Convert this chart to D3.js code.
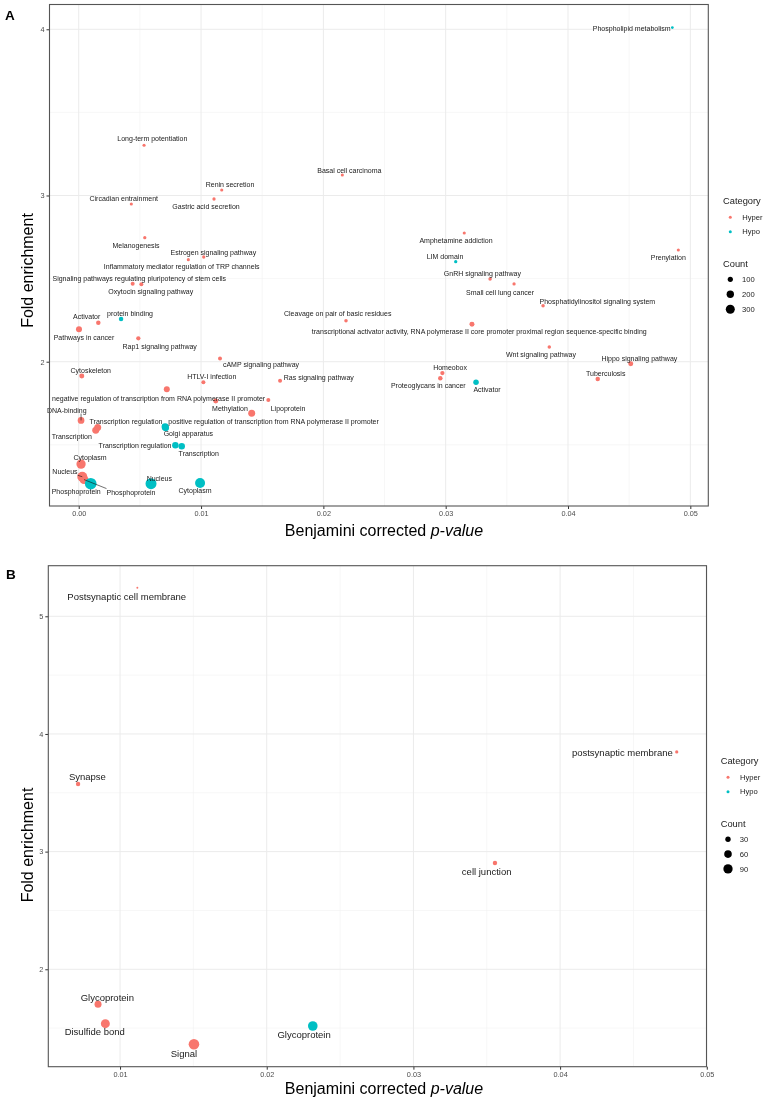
<!DOCTYPE html>
<html><head><meta charset="utf-8">
<script src="https://cdn.jsdelivr.net/npm/d3@7/dist/d3.min.js"></script>
<style>
body{margin:0;background:#fff;}
svg{display:block;will-change:transform;}
text{font-family:"Liberation Sans",Arial,Helvetica,sans-serif;-webkit-font-smoothing:antialiased;}
</style>
</head><body>
<svg id="chart" width="770" height="1100"></svg>
<script>
// ---------------- Panel A data ----------------
const termsA = [
 "Long-term potentiation","Basal cell carcinoma","Renin secretion","Gastric acid secretion","Circadian entrainment",
 "Amphetamine addiction","Melanogenesis","Prenylation","Estrogen signaling pathway","Inflammatory mediator regulation of TRP channels",
 "GnRH signaling pathway","Signaling pathways regulating pluripotency of stem cells","Small cell lung cancer","Oxytocin signaling pathway","Phosphatidylinositol signaling system",
 "Cleavage on pair of basic residues","Activator","transcriptional activator activity, RNA polymerase II core promoter proximal region sequence-specific binding","Pathways in cancer","Rap1 signaling pathway",
 "Wnt signaling pathway","cAMP signaling pathway","Hippo signaling pathway","Homeobox","Cytoskeleton",
 "Proteoglycans in cancer","Tuberculosis","Ras signaling pathway","HTLV-I infection","negative regulation of transcription from RNA polymerase II promoter",
 "","Lipoprotein","Methylation","DNA-binding","Transcription regulation",
 "Transcription","Cytoplasm","Nucleus","Phosphoprotein",
 "Phospholipid metabolism","LIM domain","protein binding","Activator","positive regulation of transcription from RNA polymerase II promoter",
 "Golgi apparatus","Transcription regulation","Transcription","Nucleus","Cytoplasm","Phosphoprotein"
];
const categoryA = [
 "Hyper","Hyper","Hyper","Hyper","Hyper","Hyper","Hyper","Hyper","Hyper","Hyper",
 "Hyper","Hyper","Hyper","Hyper","Hyper","Hyper","Hyper","Hyper","Hyper","Hyper",
 "Hyper","Hyper","Hyper","Hyper","Hyper","Hyper","Hyper","Hyper","Hyper","Hyper",
 "Hyper","Hyper","Hyper","Hyper","Hyper","Hyper","Hyper","Hyper","Hyper",
 "Hypo","Hypo","Hypo","Hypo","Hypo","Hypo","Hypo","Hypo","Hypo","Hypo","Hypo"
];
const pvalueA = [
 0.00534,0.02155,0.01169,0.01106,0.0043,
 0.03152,0.0054,0.04902,0.01022,0.00896,
 0.03363,0.00441,0.03559,0.00512,0.03796,
 0.02185,0.0016,0.03215,0.00002,0.00487,
 0.03847,0.01155,0.04513,0.02973,0.00025,
 0.02956,0.04243,0.01646,0.01019,0.0072,
 0.0112,0.0155,0.01414,0.00019,0.00155,
 0.00139,0.00019,0.00029,0.00043,
 0.04853,0.03082,0.00346,0.03248,0.00706,
 0.0071,0.0079,0.00842,0.00591,0.00992,0.00098
];
const foldA = [
 3.302,3.123,3.033,2.979,2.949,
 2.774,2.746,2.672,2.630,2.614,
 2.498,2.469,2.468,2.466,2.337,
 2.247,2.235,2.225,2.195,2.141,
 2.088,2.020,1.988,1.932,1.914,
 1.900,1.896,1.886,1.876,1.834,
 1.764,1.770,1.690,1.647,1.605,
 1.587,1.384,1.308,1.291,
 4.010,2.602,2.257,1.876,1.609,
 1.603,1.497,1.491,1.266,1.270,1.266
];
const countA = [
 36,36,36,40,36,
 36,40,36,40,36,
 45,59,40,59,45,
 45,75,92,133,68,
 45,59,92,68,92,
 75,75,59,59,133,
 92,59,181,166,181,
 181,320,370,300,
 28,40,75,112,181,
 181,156,156,447,370,506
];
const xTicksA = [0.00,0.01,0.02,0.03,0.04,0.05];
const yTicksA = [2,3,4];
const countLegendA = [100,200,300];

// ---------------- Panel B data ----------------
const termsB = ["Postsynaptic cell membrane","Synapse","postsynaptic membrane","cell junction","Glycoprotein","Disulfide bond","Signal","Glycoprotein"];
const categoryB = ["Hyper","Hyper","Hyper","Hyper","Hyper","Hyper","Hyper","Hypo"];
const pvalueB = [0.01118,0.00714,0.04795,0.03556,0.0085,0.0090,0.01504,0.02314];
const foldB = [5.243,3.575,3.847,2.903,1.703,1.538,1.363,1.518];
const countB = [4,20,11,20,51,84,117,96];
const xTicksB = [0.01,0.02,0.03,0.04,0.05];
const yTicksB = [2,3,4,5];
const countLegendB = [30,60,90];

const categories = ["Hyper","Hypo"];

// ---------------- layout (label nudges in px: dx, dy, draw segment) ----------------
const labelNudgeA = [
 [8.3,-6.3,0],[7,-4.7,0],[8.3,-5.7,0],[-8,7.3,0],[-7.6,-5.7,0],
 [-8.3,7.3,0],[-8.7,8.3,0],[-10,7.3,0],[9.6,-4.7,0],[-6.6,7.3,0],
 [-7.7,-5,0],[6.6,-5.7,0],[-14,8.3,0],[9.4,7.7,0],[54.3,-4.4,0],
 [-8.3,-6.7,0],[-11.6,-6,0],[7.3,7,0],[5,8.4,0],[21.4,8,0],
 [-8.3,7.7,0],[41,6.4,0],[8.6,-5.4,0],[7.7,-5.3,0],[9,-5,0],
 [-12,7,0],[8,-5.3,0],[38.7,-3.4,0],[8.4,-5.3,0],[-8.2,9,0],
 [0,0,0],[19.7,8.3,0],[-21.7,-5,0],[-14.3,-10.3,1],[28.3,-5.6,0],
 [-24,6.4,0],[9,-7,0],[-17.3,-5,1],[47,12.5,1],
 [-40.6,1,0],[-10.7,-5,0],[9,-5,0],[11,7.4,0],[108.5,-5,0],
 [22.8,6.2,0],[-40.3,0.7,0],[17,7.4,0],[8.3,-5,0],[-5,7,0],[-14.5,8.3,0]
];
const labelNudgeB = [
 [-10.6,9.3,0],[9.3,-7,0],[-54.4,0.3,0],[-8.3,8.3,0],[9.3,-6.6,0],[-10.6,8,0],[-10,9,0],[-8.7,8.3,0]
];

const color = d3.scaleOrdinal().domain(categories).range(["#F8766D","#00BFC4"]);
const svg = d3.select("#chart");
svg.append("rect").attr("width",770).attr("height",1100).attr("fill","#fff");

function drawPanel(cfg){
  const data = cfg.terms.map((t,i)=>({term:t,cat:cfg.cat[i],p:cfg.p[i],f:cfg.f[i],c:cfg.c[i],nudge:cfg.nudge[i]}));
  const x = d3.scaleLinear().domain(cfg.xDomain).range([cfg.left,cfg.right]);
  const y = d3.scaleLinear().domain(cfg.yDomain).range([cfg.bottom,cfg.top]);
  const r = d3.scaleSqrt().domain([0,cfg.cMax]).range([0,cfg.rMax]);
  const g = svg.append("g");

  // minor gridlines
  const step = cfg.xTicks[1]-cfg.xTicks[0];
  const xMinor = cfg.xTicks.map(v=>v-step/2).concat([cfg.xTicks[cfg.xTicks.length-1]+step/2])
     .filter(v=>v>cfg.xDomain[0]&&v<cfg.xDomain[1]);
  const yMinor = cfg.yTicks.map(v=>v-0.5).concat([cfg.yTicks[cfg.yTicks.length-1]+0.5]).filter(v=>v>cfg.yDomain[0]&&v<cfg.yDomain[1]);
  g.selectAll(".xmin").data(xMinor).join("line").attr("x1",d=>x(d)).attr("x2",d=>x(d)).attr("y1",cfg.top).attr("y2",cfg.bottom).attr("stroke","#f2f2f2").attr("stroke-width",0.6);
  g.selectAll(".ymin").data(yMinor).join("line").attr("y1",d=>y(d)).attr("y2",d=>y(d)).attr("x1",cfg.left).attr("x2",cfg.right).attr("stroke","#f2f2f2").attr("stroke-width",0.6);
  g.selectAll(".xmaj").data(cfg.xTicks).join("line").attr("x1",d=>x(d)).attr("x2",d=>x(d)).attr("y1",cfg.top).attr("y2",cfg.bottom).attr("stroke","#ebebeb").attr("stroke-width",1);
  g.selectAll(".ymaj").data(cfg.yTicks).join("line").attr("y1",d=>y(d)).attr("y2",d=>y(d)).attr("x1",cfg.left).attr("x2",cfg.right).attr("stroke","#ebebeb").attr("stroke-width",1);

  // axes
  const xAxis = d3.axisBottom(x).tickValues(cfg.xTicks).tickFormat(d3.format(".2f")).tickSize(3).tickPadding(2);
  const yAxis = d3.axisLeft(y).tickValues(cfg.yTicks).tickFormat(d3.format("d")).tickSize(3).tickPadding(2);
  const gx = g.append("g").attr("transform",`translate(0,${cfg.bottom})`).call(xAxis);
  const gy = g.append("g").attr("transform",`translate(${cfg.left},0)`).call(yAxis);
  [gx,gy].forEach(a=>{
    a.select(".domain").remove();
    a.selectAll("line").attr("stroke","#333");
    a.selectAll("text").attr("fill","#4d4d4d").style("font-size","7.3px").style("font-family",'"Liberation Sans",Arial,sans-serif');
  });

  // points
  g.selectAll(".pt").data(data).join("circle")
    .attr("cx",d=>x(d.p)).attr("cy",d=>y(d.f)).attr("r",d=>r(d.c))
    .attr("fill",d=>color(d.cat));

  // labels
  const lab = data.filter(d=>d.term!=="");
  lab.forEach(d=>{
    const px=x(d.p), py=y(d.f);
    const lx=px+d.nudge[0], ly=py+d.nudge[1];
    const t = g.append("text").attr("x",lx).attr("y",ly).attr("dy","0.35em")
      .attr("text-anchor","middle").attr("fill","#1a1a1a").style("font-size",cfg.labelSize+"px").text(d.term);
    if(d.nudge[2]){
      const w = t.node().getComputedTextLength();
      const h = cfg.labelSize;
      const bx0=lx-w/2, bx1=lx+w/2, by0=ly-h/2, by1=ly+h/2;
      const ex=Math.max(bx0,Math.min(px,bx1)), ey=Math.max(by0,Math.min(py,by1));
      g.append("line").attr("x1",px).attr("y1",py).attr("x2",ex).attr("y2",ey).attr("stroke","#111").attr("stroke-width",0.6);
    }
  });

  // panel border
  g.append("rect").attr("x",cfg.left).attr("y",cfg.top).attr("width",cfg.right-cfg.left).attr("height",cfg.bottom-cfg.top)
    .attr("fill","none").attr("stroke","#555").attr("stroke-width",1.1);

  // axis titles
  const xt = g.append("text").attr("x",cfg.xTitleX).attr("y",cfg.xTitleY).attr("text-anchor","middle").attr("fill","#000").style("font-size","16px");
  xt.append("tspan").text("Benjamini corrected ");
  xt.append("tspan").style("font-style","italic").text("p-value");
  g.append("text").attr("transform",`translate(${cfg.yTitleX},${cfg.yTitleY}) rotate(-90)`).attr("text-anchor","middle").attr("fill","#000").style("font-size","16px").text("Fold enrichment");

  // panel tag
  g.append("text").attr("x",cfg.tagX).attr("y",cfg.tagY).attr("fill","#000").style("font-size","13.5px").style("font-weight","bold").text(cfg.tag);

  // legend
  const L = cfg.legend;
  g.append("text").attr("x",L.x).attr("y",L.y).attr("dy","0.35em").style("font-size","9.3px").attr("fill","#1a1a1a").text("Category");
  categories.forEach((c,i)=>{
    const yy=L.y+16.6+i*14.4;
    g.append("circle").attr("cx",L.x+7.3).attr("cy",yy).attr("r",1.5).attr("fill",color(c));
    g.append("text").attr("x",L.x+19.3).attr("y",yy).attr("dy","0.35em").style("font-size","7.6px").attr("fill","#1a1a1a").text(c);
  });
  g.append("text").attr("x",L.x).attr("y",L.y+62.6).attr("dy","0.35em").style("font-size","9.3px").attr("fill","#1a1a1a").text("Count");
  cfg.countLegend.forEach((c,i)=>{
    const yy=L.y+78.6+i*L.step;
    g.append("circle").attr("cx",L.x+7.3).attr("cy",yy).attr("r",r(c)).attr("fill","#000");
    g.append("text").attr("x",L.x+19).attr("y",yy).attr("dy","0.35em").style("font-size","7.6px").attr("fill","#1a1a1a").text(c);
  });
}

drawPanel({
  terms:termsA, cat:categoryA, p:pvalueA, f:foldA, c:countA, nudge:labelNudgeA,
  xDomain:[-0.00239,0.05147], yDomain:[1.132,4.149],
  left:49.5, right:708.3, top:4.5, bottom:506,
  xTicks:xTicksA, yTicks:yTicksA, cMax:100, rMax:2.6, labelSize:7,
  xTitleX:384, xTitleY:536, yTitleX:33.3, yTitleY:270.5,
  tag:"A", tagX:5, tagY:19.5,
  legend:{x:723, y:200.7, step:15}, countLegend:countLegendA
});

drawPanel({
  terms:termsB, cat:categoryB, p:pvalueB, f:foldB, c:countB, nudge:labelNudgeB,
  xDomain:[0.00511,0.04998], yDomain:[1.172,5.43],
  left:48.3, right:706.5, top:565.7, bottom:1066.7,
  xTicks:xTicksB, yTicks:yTicksB, cMax:100, rMax:4.9, labelSize:9.5,
  xTitleX:384, xTitleY:1094, yTitleX:33.3, yTitleY:845,
  tag:"B", tagX:6, tagY:578.5,
  legend:{x:720.7, y:760.7, step:14.8}, countLegend:countLegendB
});
</script>
</body></html>
